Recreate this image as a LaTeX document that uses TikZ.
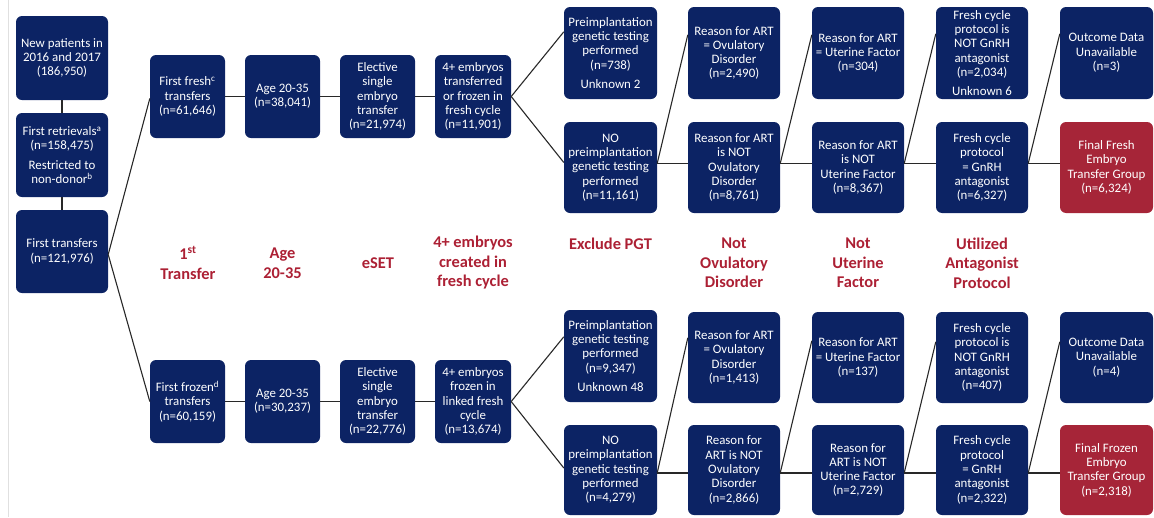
\documentclass[tikz,border=0pt]{standalone}
\usepackage{fontspec}
\setmainfont{Carlito}
\usetikzlibrary{calc}
\definecolor{navy}{RGB}{12,35,100}
\definecolor{redbox}{RGB}{166,37,56}
\definecolor{redtxt}{RGB}{172,32,52}
\definecolor{conn}{RGB}{40,40,40}
\begin{document}
\begin{tikzpicture}[x=1pt,y=-1pt,
  box/.style={fill=navy, rounded corners=6pt, text=white, align=center, inner sep=0pt,
    font=\fontsize{12.9}{14.3}\selectfont},
  finalbox/.style={box, fill=redbox},
  lbl/.style={text=redtxt, align=center, inner sep=0pt, font=\fontsize{16.4}{19.5}\selectfont\bfseries},
  link/.style={draw=conn, line width=1.1pt}]
\useasboundingbox (0,0) rectangle (1154,517);
\draw[black!12, line width=0.8pt] (8,0) -- (8,517);

% column 1
\node[box, minimum width=92pt, minimum height=84pt] (newp) at (62,58) {New patients in\\2016 and 2017\\(186,950)};
\node[box, minimum width=92pt, minimum height=84pt] (retr) at (62,155) {First retrievals\textsuperscript{a}\\(n=158,475)\\[5pt]Restricted to\\non-donor\textsuperscript{b}};
\node[box, minimum width=92pt, minimum height=83pt] (firsttr) at (62,251.5) {First transfers\\(n=121,976)};

% column 2-5 top
\node[box, minimum width=75pt, minimum height=83pt] (fresh) at (187.5,96.5) {First fresh\textsuperscript{c}\\transfers\\(n=61,646)};
\node[box, minimum width=75pt, minimum height=83pt] (agef) at (282.5,96.5) {Age 20-35\\(n=38,041)};
\node[box, minimum width=75pt, minimum height=83pt] (esetf) at (377.5,96.5) {Elective\\single\\embryo\\transfer\\(n=21,974)};
\node[box, minimum width=76pt, minimum height=83pt] (fourf) at (473,96.5) {4+ embryos\\transferred\\or frozen in\\fresh cycle\\(n=11,901)};

% column 2-5 bottom
\node[box, minimum width=75pt, minimum height=83pt] (frozen) at (187.5,401.5) {First frozen\textsuperscript{d}\\transfers\\(n=60,159)};
\node[box, minimum width=75pt, minimum height=83pt] (agez) at (282.5,401.5) {Age 20-35\\(n=30,237)};
\node[box, minimum width=75pt, minimum height=83pt] (esetz) at (377.5,401.5) {Elective\\single\\embryo\\transfer\\(n=22,776)};
\node[box, minimum width=76pt, minimum height=83pt] (fourz) at (473,401.5) {4+ embryos\\frozen in\\linked fresh\\cycle\\(n=13,674)};

% column 6
\node[box, minimum width=93pt, minimum height=92pt] (pgtf) at (610.5,53) {Preimplantation\\genetic testing\\performed\\(n=738)\\[5pt]Unknown 2};
\node[box, minimum width=93pt, minimum height=91pt] (nopgtf) at (610.5,167.5) {NO\\preimplantation\\genetic testing\\performed\\(n=11,161)};
\node[box, minimum width=93pt, minimum height=92pt] (pgtz) at (610.5,356) {Preimplantation\\genetic testing\\performed\\(n=9,347)\\[5pt]Unknown 48};
\node[box, minimum width=93pt, minimum height=90pt] (nopgtz) at (610.5,470) {NO\\preimplantation\\genetic testing\\performed\\(n=4,279)};

% column 7
\node[box, minimum width=92pt, minimum height=92pt] (ovuf) at (734,53) {Reason for ART\\= Ovulatory\\Disorder\\(n=2,490)};
\node[box, minimum width=92pt, minimum height=91pt] (notovuf) at (734,167.5) {Reason for ART\\is NOT\\Ovulatory\\Disorder\\(n=8,761)};
\node[box, minimum width=92pt, minimum height=91pt] (ovuz) at (734,357.5) {Reason for ART\\= Ovulatory\\Disorder\\(n=1,413)};
\node[box, minimum width=92pt, minimum height=90pt] (notovuz) at (734,470) {Reason for\\ART is NOT\\Ovulatory\\Disorder\\(n=2,866)};

% column 8
\node[box, minimum width=92pt, minimum height=92pt] (utf) at (858,53) {Reason for ART\\= Uterine Factor\\(n=304)};
\node[box, minimum width=92pt, minimum height=91pt] (notutf) at (858,167.5) {Reason for ART\\is NOT\\Uterine Factor\\(n=8,367)};
\node[box, minimum width=92pt, minimum height=91pt] (utz) at (858,357.5) {Reason for ART\\= Uterine Factor\\(n=137)};
\node[box, minimum width=92pt, minimum height=90pt] (notutz) at (858,470) {Reason for\\ART is NOT\\Uterine Factor\\(n=2,729)};

% column 9
\node[box, minimum width=92pt, minimum height=92pt] (antf) at (982,53) {Fresh cycle\\protocol is\\NOT GnRH\\antagonist\\(n=2,034)\\[5pt]Unknown 6};
\node[box, minimum width=92pt, minimum height=91pt] (gnrhf) at (982,167.5) {Fresh cycle\\protocol\\= GnRH\\antagonist\\(n=6,327)};
\node[box, minimum width=92pt, minimum height=91pt] (antz) at (982,357.5) {Fresh cycle\\protocol is\\NOT GnRH\\antagonist\\(n=407)};
\node[box, minimum width=92pt, minimum height=90pt] (gnrhz) at (982,470) {Fresh cycle\\protocol\\= GnRH\\antagonist\\(n=2,322)};

% column 10
\node[box, minimum width=93pt, minimum height=92pt] (outf) at (1106.5,53) {Outcome Data\\Unavailable\\(n=3)};
\node[finalbox, minimum width=93pt, minimum height=91pt] (finalf) at (1106.5,167.5) {Final Fresh\\Embryo\\Transfer Group\\(n=6,324)};
\node[box, minimum width=93pt, minimum height=91pt] (outz) at (1106.5,357.5) {Outcome Data\\Unavailable\\(n=4)};
\node[finalbox, minimum width=93pt, minimum height=90pt] (finalz) at (1106.5,470) {Final Frozen\\Embryo\\Transfer Group\\(n=2,318)};

% red labels
\node[lbl] (l1) at (188,263) {1\textsuperscript{st}\\Transfer};
\node[lbl] (l2) at (282.5,263) {Age\\20-35};
\node[lbl] (l3) at (378,263) {eSET};
\node[lbl] (l4) at (473,263) {4+ embryos\\created in\\fresh cycle};
\node[lbl] (l5) at (610.5,243.5) {Exclude PGT};
\node[lbl] (l6) at (734,263) {Not\\Ovulatory\\Disorder};
\node[lbl] (l7) at (858,263) {Not\\Uterine\\Factor};
\node[lbl] (l8) at (982,263) {Utilized\\Antagonist\\Protocol};

% connectors
\draw[link] (newp.south) -- (retr.north);
\draw[link] (retr.south) -- (firsttr.north);
\draw[link] ([yshift=-3pt]firsttr.east) -- ([yshift=-2pt]fresh.west);
\draw[link] ([yshift=-3pt]firsttr.east) -- (frozen.west);

\draw[link] (fresh.east) -- (agef.west);
\draw[link] (agef.east) -- (esetf.west);
\draw[link] (esetf.east) -- (fourf.west);
\draw[link] (frozen.east) -- (agez.west);
\draw[link] (agez.east) -- (esetz.west);
\draw[link] (esetz.east) -- (fourz.west);

\draw[link] (fourf.east) -- ([yshift=-25pt]pgtf.north west);
\draw[link] (fourf.east) -- ([yshift=5pt]nopgtf.west);
\draw[link] (fourz.east) -- ([yshift=-27pt]pgtz.north west);
\draw[link] (fourz.east) -- ([yshift=2pt]nopgtz.west);

% top chain
\draw[link] ([yshift=4pt]nopgtf.east) -- ([yshift=-28pt]ovuf.north west);
\draw[link] ([yshift=4pt]nopgtf.east) -- ([yshift=4pt]notovuf.west);
\draw[link] ([yshift=4pt]notovuf.east) -- ([yshift=-28pt]utf.north west);
\draw[link] ([yshift=4pt]notovuf.east) -- ([yshift=4pt]notutf.west);
\draw[link] ([yshift=4pt]notutf.east) -- ([yshift=-27pt]antf.north west);
\draw[link] ([yshift=4pt]notutf.east) -- ([yshift=4pt]gnrhf.west);
\draw[link] ([yshift=4pt]gnrhf.east) -- ([yshift=-27pt]outf.north west);
\draw[link] ([yshift=4pt]gnrhf.east) -- ([yshift=4pt]finalf.west);

% bottom chain
\draw[link] ([yshift=-3pt]nopgtz.east) -- ([yshift=-26pt]ovuz.north west);
\draw[link] ([yshift=-3pt]nopgtz.east) -- ([yshift=-3pt]notovuz.west);
\draw[link] ([yshift=-3pt]notovuz.east) -- ([yshift=-29pt]utz.north west);
\draw[link] ([yshift=-3pt]notovuz.east) -- ([yshift=-3pt]notutz.west);
\draw[link] ([yshift=-3pt]notutz.east) -- ([yshift=-30pt]antz.north west);
\draw[link] ([yshift=-3pt]notutz.east) -- ([yshift=-3pt]gnrhz.west);
\draw[link] ([yshift=-3pt]gnrhz.east) -- ([yshift=-30pt]outz.north west);
\draw[link] ([yshift=-3pt]gnrhz.east) -- ([yshift=-3pt]finalz.west);
\end{tikzpicture}
\end{document}
